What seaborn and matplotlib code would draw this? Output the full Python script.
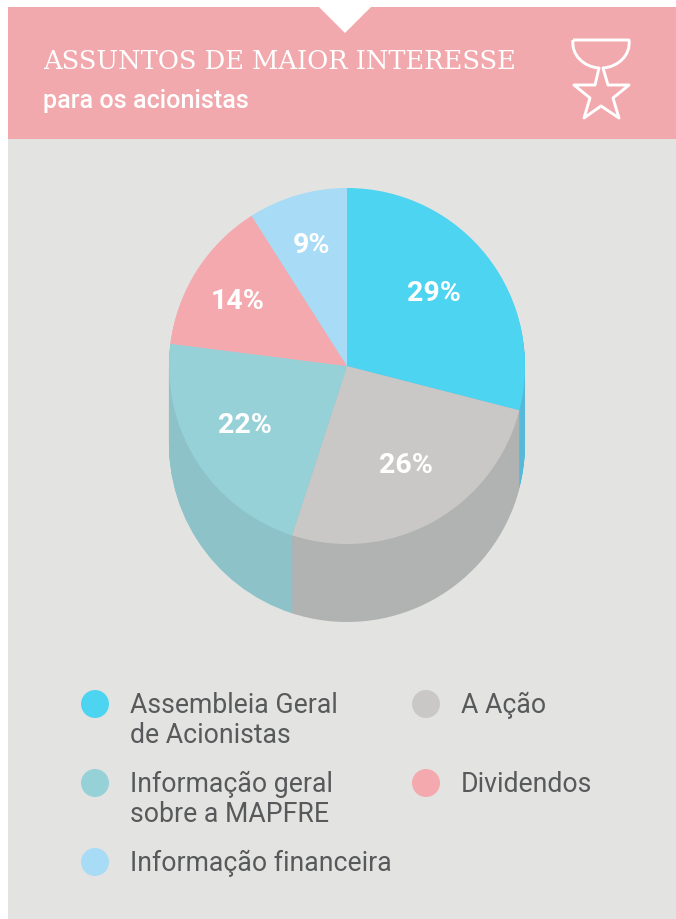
import numpy as np
import pandas as pd
import matplotlib
matplotlib.use("Agg")
import matplotlib.pyplot as plt
from matplotlib.patches import Rectangle, Polygon
from matplotlib.path import Path
from matplotlib.patches import PathPatch
import seaborn as sns

# ---- data ----
categories = ["Assembleia Geral\nde Acionistas", "A Ação", "Informação geral\nsobre a MAPFRE",
              "Dividendos", "Informação financeira"]
values = [29, 26, 22, 14, 9]
top_colors = ["#4DD4F1", "#C9C8C6", "#96D1D8", "#F4A9AE", "#A8DBF5"]
wall_colors = ["#56B9DA", "#B1B3B2", "#8DC2C9", "#F4A9AE", "#A8DBF5"]
title = "ASSUNTOS DE MAIOR INTERESSE"
subtitle = "para os acionistas"

# ---- layout (pixels) ----
W, H = 676, 919
CX, CY, R, DEPTH = 347, 366, 178, 78
LABEL_POS = [(434, 293.5), (406, 465.5), (245, 425.5), (238, 301.5), (311, 245.5)]
LEG_COL = [0, 1, 0, 1, 0]
LEG_ROW = [0, 0, 1, 1, 2]
LEG_X = [95, 426]
LEG_Y = [704, 783, 862]

sns.set_theme(style="white")
plt.rcParams["font.family"] = ["Roboto", "DejaVu Sans"]

fig = plt.figure(figsize=(W / 100, H / 100), dpi=100, facecolor="white")
ax = fig.add_axes([0, 0, 1, 1])

def Y(y):
    return H - y

ax.add_patch(Rectangle((8, Y(H)), W - 8, H - 139, fc="#E3E3E1", ec="none", zorder=0))
ax.add_patch(Rectangle((8, Y(139)), W - 8, 132, fc="#F2A9AD", ec="none", zorder=0))
ax.add_patch(Polygon([(318, Y(6)), (372, Y(6)), (345, Y(33))], fc="white", ec="none", zorder=0.5))

# extruded wall: stacked pies from deepest to shallowest, then the top face
pie_args = dict(startangle=90, counterclock=False, radius=R)
for d in range(DEPTH, 0, -1):
    ax.pie(values, colors=wall_colors, center=(CX, Y(CY + d)),
           wedgeprops=dict(linewidth=0), **pie_args)
wedges, _ = ax.pie(values, colors=top_colors, center=(CX, Y(CY)),
                   wedgeprops=dict(linewidth=0), **pie_args)

for v, (lx, ly) in zip(values, LABEL_POS):
    ax.text(lx, Y(ly), f"{v}%", color="white", fontsize=20.5, fontweight="bold",
            ha="center", va="center", zorder=10)

ax.set_xlim(0, W)
ax.set_ylim(0, H)
ax.set_aspect("auto")
ax.axis("off")
ax.set_frame_on(False)

# legend dots through seaborn
leg = pd.DataFrame({"x": [LEG_X[c] for c in LEG_COL],
                    "y": [Y(LEG_Y[r]) for r in LEG_ROW],
                    "cat": categories})
sns.scatterplot(data=leg, x="x", y="y", hue="cat", palette=dict(zip(categories, top_colors)),
                s=(28 * 0.72) ** 2, linewidth=0, legend=False, ax=ax, zorder=5)
ax.set_xlim(0, W)
ax.set_ylim(0, H)
for cat, c, r in zip(categories, LEG_COL, LEG_ROW):
    ax.text(LEG_X[c] + 35, Y(LEG_Y[r] - 12), cat, color="#58595B", fontsize=19.2,
            ha="left", va="top", linespacing=1.15, zorder=6)

# header text
ax.text(43, Y(61.5), title, color="white", fontsize=18.5, family="DejaVu Serif",
        ha="left", va="center", zorder=6)
ax.text(43, Y(101), subtitle, color="white", fontsize=18.1, fontweight="medium",
        ha="left", va="center", zorder=6)

# trophy-star icon
verts = [(573, 40), (629, 40), (631, 55), (618, 67), (603, 68), (608, 85), (629, 85),
         (613, 98), (619, 118), (601, 106), (584, 118), (590, 98), (574, 85), (595, 85),
         (599, 68), (584, 67), (571, 55), (573, 40)]
codes = [Path.MOVETO, Path.LINETO, Path.CURVE4, Path.CURVE4, Path.CURVE4, Path.LINETO, Path.LINETO,
         Path.LINETO, Path.LINETO, Path.LINETO, Path.LINETO, Path.LINETO, Path.LINETO, Path.LINETO,
         Path.LINETO, Path.CURVE4, Path.CURVE4, Path.CURVE4]
ax.add_patch(PathPatch(Path([(x, Y(y)) for x, y in verts], codes), fc="none", ec="white",
                       lw=2.1, joinstyle="round", zorder=6))
fig.savefig("out.png", dpi=100, facecolor="white")
